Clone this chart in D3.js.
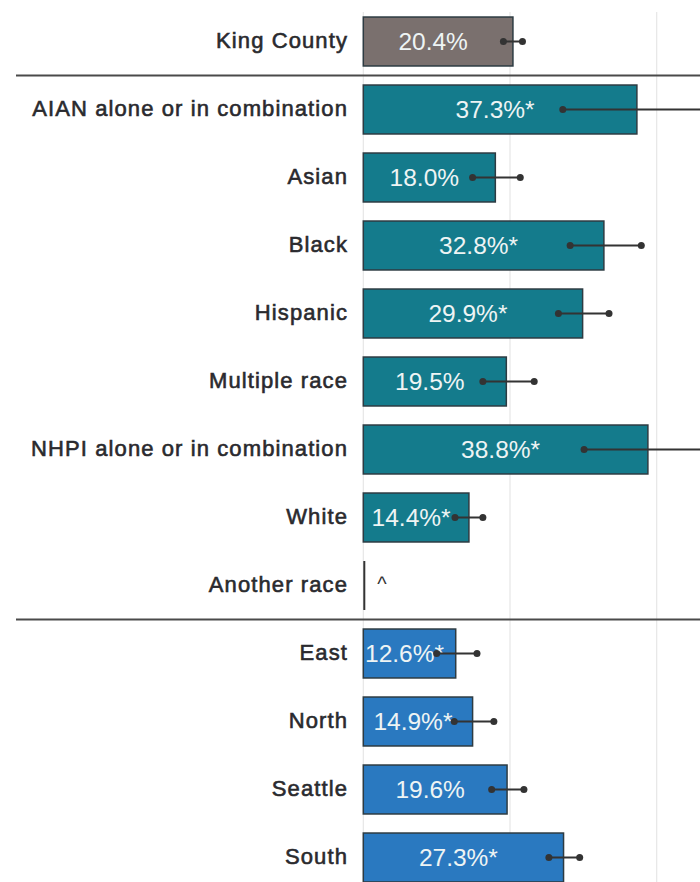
<!DOCTYPE html>
<html><head><meta charset="utf-8">
<script src="https://cdn.jsdelivr.net/npm/d3@7"></script>
<style>
html,body{margin:0;padding:0;background:#fff;}
svg{display:block;font-family:"Liberation Sans",Arial,sans-serif;}
</style></head>
<body>
<svg id="chart" width="700" height="882"></svg>
<script>
const categories = ["King County","AIAN alone or in combination","Asian","Black","Hispanic","Multiple race","NHPI alone or in combination","White","Another race","East","North","Seattle","South"];
const groups = ["King County","Race","Race","Race","Race","Race","Race","Race","Race","Region","Region","Region","Region"];
const values = [20.4,37.3,18.0,32.8,29.9,19.5,38.8,14.4,0,12.6,14.9,19.6,27.3];
const lower  = [19.1,27.2,14.9,28.2,26.6,16.3,30.1,12.5,null,10.0,12.4,17.5,25.3];
const upper  = [21.7,48.0,21.4,37.9,33.5,23.3,47.5,16.3,null,15.5,17.8,21.9,29.5];
const valueLabels = ["20.4%","37.3%*","18.0%","32.8%*","29.9%*","19.5%","38.8%*","14.4%*","^","12.6%*","14.9%*","19.6%","27.3%*"];
const gridTicks = [0,20,40];

const groupColor = {"King County":"#7a706e","Race":"#147b8c","Region":"#2a79c0"};

const svg = d3.select("#chart");
const x = d3.scaleLinear().domain([0,40]).range([363.3,656.7]);
const y = d3.scaleBand().domain(categories).range([7.5,891.5]).paddingInner(0.28).paddingOuter(0.14);

const data = categories.map((c,i)=>({cat:c,group:groups[i],v:values[i],lo:lower[i],hi:upper[i],lab:valueLabels[i]}));

// gridlines
svg.append("g").selectAll("line").data(gridTicks).join("line")
  .attr("x1",d=>x(d)).attr("x2",d=>x(d)).attr("y1",12).attr("y2",882)
  .attr("stroke","#e6e6e6").attr("stroke-width",1.2);

// separators between groups
const seps = [];
for(let i=1;i<data.length;i++){ if(data[i].group!==data[i-1].group) seps.push((y(data[i-1].cat)+y.bandwidth()+y(data[i].cat))/2); }
svg.append("g").selectAll("line").data(seps).join("line")
  .attr("x1",16).attr("x2",700).attr("y1",d=>d).attr("y2",d=>d)
  .attr("stroke","#4a4a4a").attr("stroke-width",2);

// category labels
svg.append("g").selectAll("text").data(data).join("text")
  .attr("x",348).attr("y",d=>y(d.cat)+y.bandwidth()/2 - 1)
  .attr("text-anchor","end").attr("dominant-baseline","central")
  .attr("font-size",22).attr("letter-spacing",1.1)
  .attr("fill","#2a2a2e").attr("stroke","#2a2a2e").attr("stroke-width",0.6)
  .text(d=>d.cat);

// bars
svg.append("g").selectAll("rect").data(data.filter(d=>d.v>0)).join("rect")
  .attr("x",x(0)).attr("y",d=>y(d.cat))
  .attr("width",d=>x(d.v)-x(0)).attr("height",y.bandwidth())
  .attr("fill",d=>groupColor[d.group]).attr("stroke","#2d3b42").attr("stroke-width",1.5);

// zero-value marker
svg.append("g").selectAll("line").data(data.filter(d=>d.v===0)).join("line")
  .attr("x1",x(0)+1).attr("x2",x(0)+1).attr("y1",d=>y(d.cat)).attr("y2",d=>y(d.cat)+y.bandwidth())
  .attr("stroke","#333").attr("stroke-width",2);

// value labels
const inBar = data.filter(d=>d.v>0), noBar = data.filter(d=>!(d.v>0));
svg.append("g").selectAll("text").data(inBar).join("text")
  .attr("x",d=>(x(0)+x(d.v))/2-5)
  .attr("y",d=>y(d.cat)+y.bandwidth()/2)
  .attr("text-anchor","middle").attr("dominant-baseline","central")
  .attr("font-size",24.5).attr("fill","#eef4f4").text(d=>d.lab);
svg.append("g").selectAll("text").data(noBar).join("text")
  .attr("x",x(0)+14).attr("y",d=>y(d.cat)+y.bandwidth()/2+5)
  .attr("text-anchor","start")
  .attr("font-size",20).attr("fill","#333").text(d=>d.lab);

// error bars
const eb = svg.append("g").selectAll("g").data(data.filter(d=>d.lo!=null)).join("g");
eb.append("line").attr("x1",d=>x(d.lo)).attr("x2",d=>x(d.hi))
  .attr("y1",d=>y(d.cat)+y.bandwidth()/2).attr("y2",d=>y(d.cat)+y.bandwidth()/2)
  .attr("stroke","#333").attr("stroke-width",2);
eb.append("circle").attr("cx",d=>x(d.lo)).attr("cy",d=>y(d.cat)+y.bandwidth()/2).attr("r",3.5).attr("fill","#333");
eb.append("circle").attr("cx",d=>x(d.hi)).attr("cy",d=>y(d.cat)+y.bandwidth()/2).attr("r",3.5).attr("fill","#333");
</script>
</body></html>
